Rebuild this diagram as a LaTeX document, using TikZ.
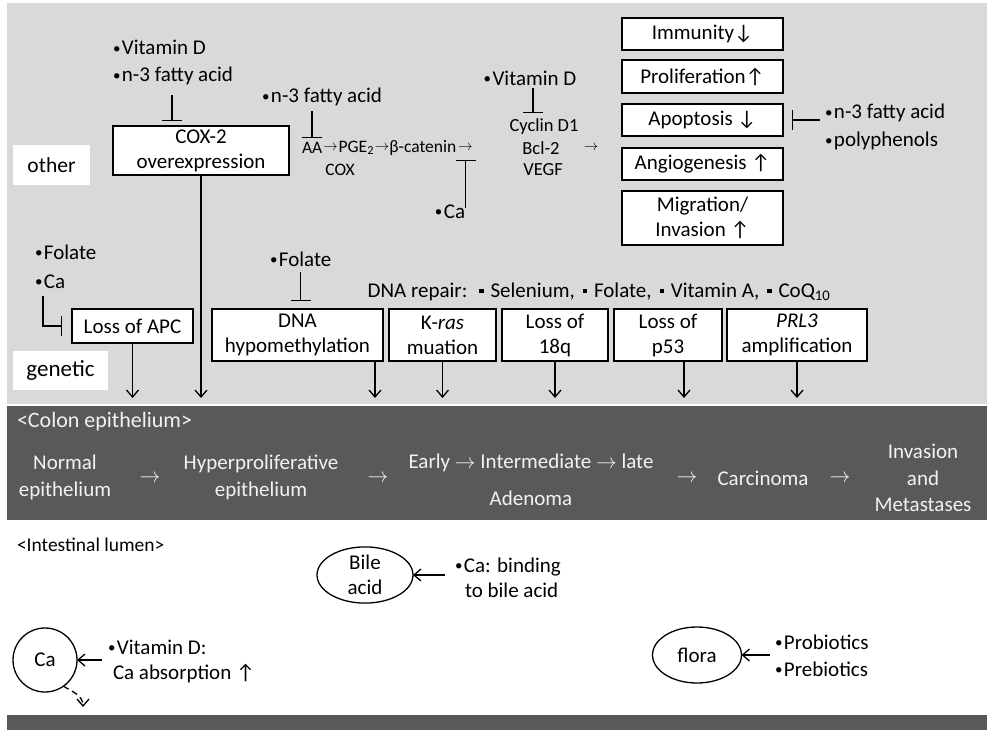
\documentclass[tikz,border=0pt]{standalone}
\usepackage{fontspec}
\setmainfont{Carlito}
\usetikzlibrary{arrows.meta,shapes.geometric,positioning}
\definecolor{panel}{HTML}{D9D9D9}
\definecolor{band}{HTML}{595959}
\definecolor{bandtext}{HTML}{F2F2F2}
\newcommand{\sqb}{\raisebox{0.22em}{\rule{0.2em}{0.2em}}}
\newcommand{\bul}{\raisebox{1.8pt}{\fontsize{15}{15}\selectfont•}\hspace{1.5pt}}
\newcommand{\sar}{{\fontsize{14}{14}\selectfont$\rightarrow$}}
\begin{document}
\begin{tikzpicture}[x=1pt,y=-1pt,
  every node/.style={inner sep=0pt, outer sep=0pt, font=\fontsize{21}{25}\selectfont},
  box/.style={draw, fill=white, line width=1.3pt, align=center},
  lbl/.style={fill=white, align=center},
  txt/.style={anchor=base west},
  ch/.style={font=\fontsize{17.5}{21}\selectfont},
  cy/.style={font=\fontsize{18.5}{21}\selectfont},
  wt/.style={text=bandtext, align=center},
  inh/.style={line width=1.3pt, -{Bar[width=20pt,line width=1.3pt]}},
  act/.style={line width=1.3pt, -{Straight Barb[length=7pt,width=12pt,line width=1.3pt]}},
]
\useasboundingbox (0,0) rectangle (987,730);
\fill[panel] (7,3) rectangle (987,404);
\fill[band] (7,406) rectangle (987,520);
\fill[band] (7,715) rectangle (987,730);

% ---------- other ----------
\node[lbl, minimum width=77pt, minimum height=40pt, font=\fontsize{21.5}{25}\selectfont] (other) at (51.5,165) {other};
\node[lbl, minimum width=95pt, minimum height=39pt, font=\fontsize{23}{25}\selectfont] (genetic) at (60.5,370.5) {genetic};

\node[txt] (vd1) at (113,55) {\bul Vitamin D};
\node[txt] (n3a) at (113,82) {\bul n-3 fatty acid};
\node[box, minimum width=176pt, minimum height=49pt] (cox) at (201,150.5) {COX-2\\overexpression};
\draw[inh, shorten >=5pt] ([xshift=-1pt,yshift=-10pt]n3a.south) -- ([xshift=-1pt]n3a.south |- cox.north);

\node[txt] (n3b) at (262,103) {\bul n-3 fatty acid};
\node[ch, anchor=west] (aa) at (302,148) {AA};
\node[ch, right=1pt of aa] (ar1) {\sar};
\node[ch, right=1pt of ar1] (pge) {PGE\textsubscript{2}};
\node[ch, right=1pt of pge] (ar2) {\sar};
\node[ch, right=0pt of ar2] (bcat) {β-catenin};
\node[ch, right=2pt of bcat] (ar3) {\sar};
\node[ch] (cox2) at (340,170) {COX};
\draw[inh, shorten >=4pt] ([yshift=-5pt]n3b.south -| aa.north) -- (aa.north);

\node[cy] (cyc) at (544,127) {Cyclin D1};
\node[cy] (bcl) at (541,148) {Bcl-2};
\node[cy] (vegf) at (543,170) {VEGF};
\node[ch] (ar4) at (591,148) {\sar};
\node (vd3) at (530,78) {\bul Vitamin D};
\draw[inh, shorten >=6pt] ([xshift=3pt,yshift=-3pt]vd3.south) -- ([xshift=3pt]vd3.south |- cyc.north);

\node (ca1) at (450,212) {\bul Ca};
\draw[inh, shorten >=9pt] ([yshift=-3pt]ca1.north -| ar3.south) -- (ar3.south);

% right boxes
\node[box, minimum width=161pt, minimum height=32pt] (imm) at (702.5,34) {Immunity↓};
\node[box, minimum width=161pt, minimum height=33pt] (prol) at (702.5,76.5) {Proliferation↑};
\node[box, minimum width=161pt, minimum height=32pt] (apop) at (702.5,120) {Apoptosis ↓};
\node[box, minimum width=161pt, minimum height=32pt] (angio) at (702.5,164) {Angiogenesis ↑};
\node[box, minimum width=161pt, minimum height=54pt] (migr) at (702.5,218) {Migration/\\Invasion ↑};
\node[txt] (n3c) at (825,119) {\bul n-3 fatty acid};
\node[txt] (poly) at (825,147) {\bul polyphenols};
\draw[inh, shorten >=9pt] ([xshift=-5pt]n3c.west |- apop.east) -- (apop.east);

% ---------- genetic ----------
\node[txt] (fol1) at (35,259) {\bul Folate};
\node[txt] (ca2) at (35,288) {\bul Ca};
\node[box, minimum width=121pt, minimum height=34pt] (apc) at (132.5,326) {Loss of APC};
\draw[inh, shorten >=10pt] ([xshift=-7pt,yshift=-8pt]ca2.south) |- (apc.west);

\node[txt] (fol2) at (270,266) {\bul Folate};
\node[box, minimum width=171pt, minimum height=52pt] (hypo) at (297.5,335) {DNA\\hypomethylation};
\draw[inh, shorten >=8pt] ([yshift=-6pt]fol2.south) -- (fol2.south |- hypo.north);

\node (rep) at (599,292) {DNA repair:\hspace{12pt}\sqb\hspace{7pt}Selenium,\hspace{8pt}\sqb\hspace{7pt}Folate,\hspace{8pt}\sqb\hspace{7pt}Vitamin A,\hspace{8pt}\sqb\hspace{7pt}CoQ\textsubscript{10}};

\node[box, minimum width=107pt, minimum height=52pt] (kras) at (442.5,335) {K-\textit{ras}\\muation};
\node[box, minimum width=106pt, minimum height=52pt] (q18) at (555,335) {Loss of\\18q};
\node[box, minimum width=108pt, minimum height=52pt] (p53) at (668,335) {Loss of\\p53};
\node[box, minimum width=140pt, minimum height=52pt] (prl) at (797,335) {\textit{PRL3}\\amplification};

\coordinate (tips) at (0,398);
\draw[act] (cox.south) -- (cox.south |- tips);
\draw[act] (apc.south) -- (apc.south |- tips);
\draw[act] ([xshift=77.5pt]hypo.south) -- ([xshift=77.5pt]hypo.south |- tips);
\draw[act] (kras.south) -- (kras.south |- tips);
\draw[act] (q18.south) -- (q18.south |- tips);
\draw[act] ([xshift=16pt]p53.south) -- ([xshift=16pt]p53.south |- tips);
\draw[act] (prl.south) -- (prl.south |- tips);

% ---------- colon epithelium band ----------
\node[wt, anchor=west, font=\fontsize{22}{25}\selectfont] (colon) at (17,422) {<Colon epithelium>};
\node[wt, font=\fontsize{21}{27}\selectfont] (normal) at (65,477) {Normal\\epithelium};
\node[wt] (a1) at (150,479) {$\rightarrow$};
\node[wt, font=\fontsize{21}{27}\selectfont] (hyper) at (261,477) {Hyperproliferative\\epithelium};
\node[wt] (a2) at (378,479) {$\rightarrow$};
\node[wt] (early) at (531,463) {Early $\rightarrow$ Intermediate $\rightarrow$ late};
\node[wt] (aden) at (531,498) {Adenoma};
\node[wt] (a3) at (687,479) {$\rightarrow$};
\node[wt] (carc) at (763,478) {Carcinoma};
\node[wt] (a4) at (840,479) {$\rightarrow$};
\node[wt, font=\fontsize{21}{26.5}\selectfont] (inv) at (923,478) {Invasion\\and\\Metastases};

% ---------- intestinal lumen ----------
\node[anchor=west, font=\fontsize{19.5}{25}\selectfont] (lumen) at (17,545) {<Intestinal lumen>};
\node[draw, ellipse, line width=1.3pt, minimum width=96pt, minimum height=50pt, align=center] (bile) at (365,575) {Bile\\acid};
\node[txt] (cab1) at (455,572) {\bul Ca: binding};
\node[txt] (cab2) at (465,597) {to bile acid};
\draw[act] ([xshift=-10pt]cab1.west |- bile.east) -- (bile.east);

\node[draw, circle, line width=1.3pt, minimum size=64pt] (ca) at (45,660) {Ca};
\node[txt] (vdd1) at (108,654) {\bul Vitamin D:};
\node[txt] (vdd2) at (113,679) {Ca absorption ↑};
\draw[act] (102,660) -- (ca.east);
\coordinate (caout) at (83,707);
\draw[act, dashed, dash pattern=on 6pt off 4pt] (ca.-55) to[out=-30, in=90] (caout);

\node[draw, ellipse, line width=1.3pt, minimum width=89pt, minimum height=56pt] (flora) at (697,655) {flora};
\node[txt] (pro) at (775,649) {\bul Probiotics};
\node[txt] (pre) at (775,676) {\bul Prebiotics};
\draw[act] (770,655) -- (flora.east);
\end{tikzpicture}
\end{document}
